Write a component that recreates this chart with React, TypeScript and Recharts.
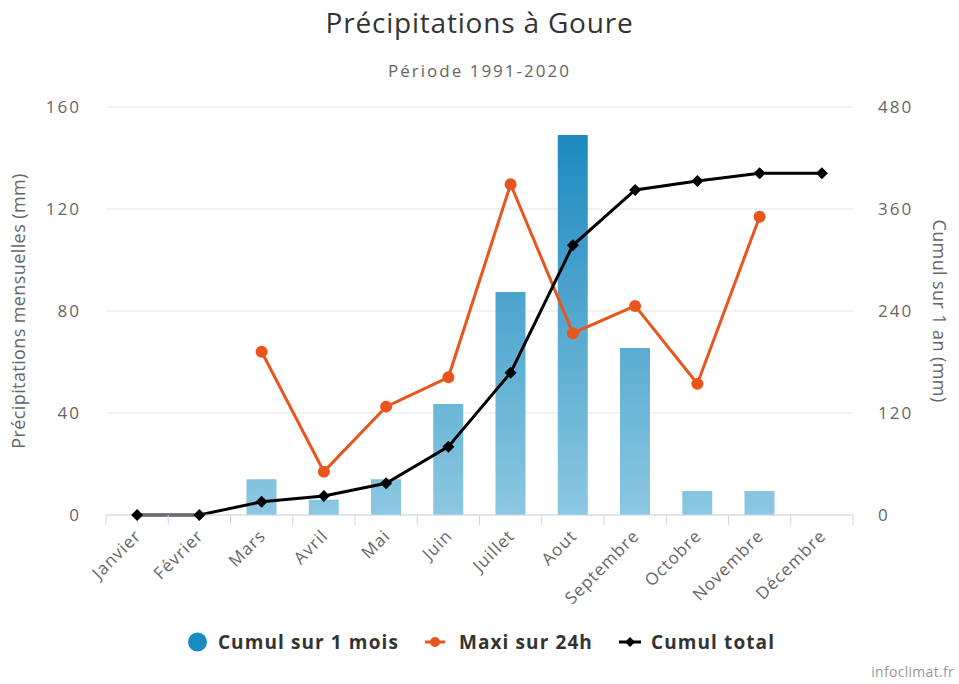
import { ComposedChart, Bar, Line, XAxis, YAxis, CartesianGrid, Legend } from "recharts";

const months = [
  "Janvier", "Février", "Mars", "Avril", "Mai", "Juin",
  "Juillet", "Aout", "Septembre", "Octobre", "Novembre", "Décembre",
];

// cumul sur 1 mois (mm)
const monthly = [0, 0, 14, 6, 14, 43.5, 87.5, 149, 65.5, 9.4, 9.4, 0];
// maxi sur 24h (mm)
const max24h = [null, null, 64, 17, 42.5, 54, 129.7, 71.3, 82, 51.5, 117, null];
// cumul total (mm)
const cumul = [0, 0, 15.6, 22.4, 37.3, 80.4, 167.4, 317.3, 382.4, 393, 402, 402];

const leftTicks = [0, 40, 80, 120, 160];
const rightTicks = [0, 120, 240, 360, 480];

const data = months.map((m, i) => ({
  month: m,
  monthly: monthly[i],
  max24h: max24h[i],
  cumul: cumul[i],
}));

const FONT = '"Open Sans", "DejaVu Sans", sans-serif';
const BLUE = "#1a8bc0";
const ORANGE = "#e8561e";
const BAND = (853 - 106) / 12;

const MonthTick = (props: any) => {
  const { x, y, payload, index } = props;
  const left = x - BAND / 2;
  return (
    <g>
      <line x1={left} y1={y - 8} x2={left} y2={y + 2} stroke="#ccd6eb" />
      {index === months.length - 1 && (
        <line x1={x + BAND / 2} y1={y - 8} x2={x + BAND / 2} y2={y + 2} stroke="#ccd6eb" />
      )}
      <text
        x={x + 5}
        y={y + 14}
        transform={`rotate(-45, ${x + 5}, ${y + 14})`}
        textAnchor="end"
        fill="#666"
        fontSize={17}
        letterSpacing={1}
        fontFamily={FONT}
      >
        {payload.value}
      </text>
    </g>
  );
};

const Diamond = (props: any) => {
  const { cx, cy } = props;
  if (cx == null || cy == null) return null;
  const r = 6;
  return (
    <polygon
      points={`${cx},${cy - r} ${cx + r},${cy} ${cx},${cy + r} ${cx - r},${cy}`}
      fill="#000"
    />
  );
};

const LegendContent = () => (
  <div
    style={{
      display: "flex",
      justifyContent: "center",
      alignItems: "center",
      gap: 26,
      fontFamily: FONT,
      fontWeight: "bold",
      fontSize: 19,
      letterSpacing: 1.1,
      color: "#333",
      height: 40,
      paddingLeft: 4,
    }}
  >
    <span style={{ display: "flex", alignItems: "center" }}>
      <svg width={30} height={20}>
        <circle cx={9.5} cy={10} r={9.5} fill={BLUE} />
      </svg>
      Cumul sur 1 mois
    </span>
    <span style={{ display: "flex", alignItems: "center" }}>
      <svg width={34} height={20}>
        <line x1={0} y1={10} x2={20} y2={10} stroke={ORANGE} strokeWidth={3} />
        <circle cx={10} cy={10} r={5} fill={ORANGE} />
      </svg>
      Maxi sur 24h
    </span>
    <span style={{ display: "flex", alignItems: "center" }}>
      <svg width={32} height={20}>
        <line x1={0} y1={10} x2={22} y2={10} stroke="#000" strokeWidth={3} />
        <polygon points="11,5 16,10 11,15 6,10" fill="#000" />
      </svg>
      Cumul total
    </span>
  </div>
);

const App = () => {
  return (
    <div
      style={{
        position: "absolute",
        left: 0,
        top: 0,
        width: 959,
        height: 684,
        background: "#fff",
        fontFamily: FONT,
      }}
    >
      <div
        style={{
          position: "absolute",
          top: 3,
          width: 959,
          textAlign: "center",
          fontSize: 28,
          letterSpacing: 0.8,
          color: "#333",
        }}
      >
        Précipitations à Goure
      </div>
      <div
        style={{
          position: "absolute",
          top: 59,
          width: 959,
          textAlign: "center",
          fontSize: 17,
          letterSpacing: 2,
          color: "#666",
        }}
      >
        Période 1991-2020
      </div>
      <div
        style={{
          position: "absolute",
          top: 662,
          right: 5,
          fontSize: 14,
          letterSpacing: 0.3,
          color: "#999",
        }}
      >
        infoclimat.fr
      </div>
      <ComposedChart
        width={959}
        height={684}
        data={data}
        margin={{ top: 107, right: 0, bottom: 22, left: 0 }}
        barCategoryGap={0}
      >
        <defs>
          <linearGradient id="barGrad" gradientUnits="userSpaceOnUse" x1={0} y1={107} x2={0} y2={515}>
            <stop offset="0%" stopColor="#1585bc" />
            <stop offset="100%" stopColor="#8cc8e1" />
          </linearGradient>
        </defs>
        <CartesianGrid vertical={false} stroke="#e6e6e6" yAxisId="left" />
        <XAxis
          dataKey="month"
          height={107}
          interval={0}
          stroke="#ccd6eb"
          tickLine={false}
          tick={<MonthTick />}
        />
        <YAxis
          yAxisId="left"
          orientation="left"
          width={106}
          domain={[0, 160]}
          ticks={leftTicks}
          axisLine={false}
          tickLine={false}
          tickSize={0}
          tickMargin={25}
          tick={{ fill: "#666", fontSize: 17, letterSpacing: 2, fontFamily: FONT }}
          label={{
            value: "Précipitations mensuelles (mm)",
            angle: -90,
            position: "insideLeft",
            offset: 19,
            style: { textAnchor: "middle", fill: "#666", fontSize: 18, letterSpacing: 0.4, fontFamily: FONT },
          }}
        />
        <YAxis
          yAxisId="right"
          orientation="right"
          width={106}
          domain={[0, 480]}
          ticks={rightTicks}
          axisLine={false}
          tickLine={false}
          tickSize={0}
          tickMargin={25}
          tick={{ fill: "#666", fontSize: 17, letterSpacing: 2, fontFamily: FONT }}
          label={{
            value: "Cumul sur 1 an (mm)",
            angle: 90,
            position: "insideRight",
            offset: 20,
            style: { textAnchor: "middle", fill: "#666", fontSize: 18, letterSpacing: 0.4, fontFamily: FONT },
          }}
        />
        <Legend
          verticalAlign="bottom"
          align="center"
          content={<LegendContent />}
          wrapperStyle={{ height: 40 }}
        />
        <Bar
          yAxisId="left"
          dataKey="monthly"
          name="Cumul sur 1 mois"
          barSize={30}
          fill="url(#barGrad)"
          isAnimationActive={false}
        />
        <Line
          yAxisId="left"
          dataKey="max24h"
          name="Maxi sur 24h"
          type="linear"
          stroke={ORANGE}
          strokeWidth={3}
          dot={{ r: 6, fill: ORANGE, stroke: ORANGE, strokeWidth: 0 }}
          activeDot={false}
          isAnimationActive={false}
        />
        <Line
          yAxisId="right"
          dataKey="cumul"
          name="Cumul total"
          type="linear"
          stroke="#000"
          strokeWidth={3}
          dot={<Diamond />}
          activeDot={false}
          isAnimationActive={false}
        />
      </ComposedChart>
    </div>
  );
};

export default App;
